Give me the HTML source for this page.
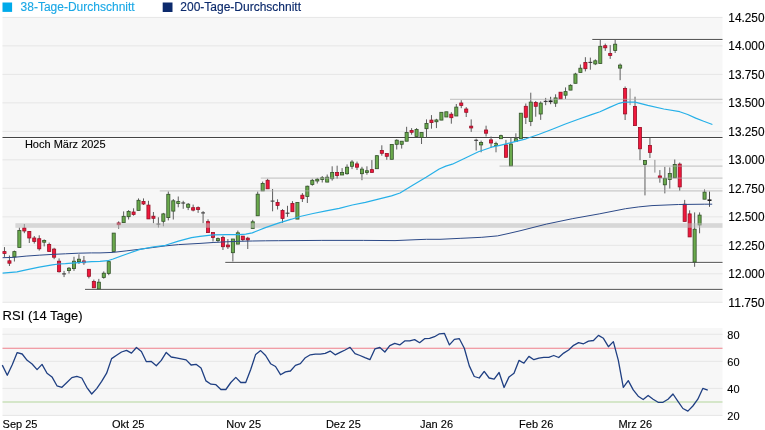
<!DOCTYPE html><html><head><meta charset="utf-8"><title>Chart</title><style>
html,body{margin:0;padding:0;background:#fff;width:765px;height:430px;overflow:hidden}
svg{display:block}
text{font-family:"Liberation Sans", Arial, sans-serif;fill:#000;stroke:#000;stroke-width:0.12px}
</style></head><body>
<svg width="765" height="430" viewBox="0 0 765 430">
<rect x="2.5" y="2.5" width="9.6" height="9.4" fill="#00aaea"/>
<text x="20.6" y="10.8" font-size="12" style="fill:#1aa8e6;stroke:#1aa8e6;stroke-width:0.12px">38-Tage-Durchschnitt</text>
<rect x="162.7" y="2.5" width="9.8" height="9.5" fill="#0c2a6c"/>
<text x="180.3" y="10.8" font-size="12" style="fill:#0c2a6c;stroke:#0c2a6c;stroke-width:0.15px">200-Tage-Durchschnitt</text>
<rect x="2.5" y="17.4" width="720" height="284.9" fill="#f7f7f7"/>
<line x1="2.5" x2="722.5" y1="17.4" y2="17.4" stroke="#e6e6e6" stroke-width="1"/>
<text x="728.3" y="21.7" font-size="12" textLength="36.2" lengthAdjust="spacingAndGlyphs">14.250</text>
<line x1="2.5" x2="722.5" y1="45.89" y2="45.89" stroke="#e6e6e6" stroke-width="1"/>
<text x="728.3" y="50.19" font-size="12" textLength="36.2" lengthAdjust="spacingAndGlyphs">14.000</text>
<line x1="2.5" x2="722.5" y1="74.38" y2="74.38" stroke="#e6e6e6" stroke-width="1"/>
<text x="728.3" y="78.68" font-size="12" textLength="36.2" lengthAdjust="spacingAndGlyphs">13.750</text>
<line x1="2.5" x2="722.5" y1="102.87" y2="102.87" stroke="#e6e6e6" stroke-width="1"/>
<text x="728.3" y="107.17" font-size="12" textLength="36.2" lengthAdjust="spacingAndGlyphs">13.500</text>
<line x1="2.5" x2="722.5" y1="131.36" y2="131.36" stroke="#e6e6e6" stroke-width="1"/>
<text x="728.3" y="135.66" font-size="12" textLength="36.2" lengthAdjust="spacingAndGlyphs">13.250</text>
<line x1="2.5" x2="722.5" y1="159.85" y2="159.85" stroke="#e6e6e6" stroke-width="1"/>
<text x="728.3" y="164.15" font-size="12" textLength="36.2" lengthAdjust="spacingAndGlyphs">13.000</text>
<line x1="2.5" x2="722.5" y1="188.34" y2="188.34" stroke="#e6e6e6" stroke-width="1"/>
<text x="728.3" y="192.64" font-size="12" textLength="36.2" lengthAdjust="spacingAndGlyphs">12.750</text>
<line x1="2.5" x2="722.5" y1="216.83" y2="216.83" stroke="#e6e6e6" stroke-width="1"/>
<text x="728.3" y="221.13" font-size="12" textLength="36.2" lengthAdjust="spacingAndGlyphs">12.500</text>
<line x1="2.5" x2="722.5" y1="245.32" y2="245.32" stroke="#e6e6e6" stroke-width="1"/>
<text x="728.3" y="249.62" font-size="12" textLength="36.2" lengthAdjust="spacingAndGlyphs">12.250</text>
<line x1="2.5" x2="722.5" y1="273.81" y2="273.81" stroke="#e6e6e6" stroke-width="1"/>
<text x="728.3" y="278.11" font-size="12" textLength="36.2" lengthAdjust="spacingAndGlyphs">12.000</text>
<line x1="2.5" x2="722.5" y1="302.3" y2="302.3" stroke="#e6e6e6" stroke-width="1"/>
<text x="728.3" y="306.6" font-size="12" textLength="36.2" lengthAdjust="spacingAndGlyphs">11.750</text>
<line x1="592.3" x2="722.5" y1="39.45" y2="39.45" stroke="#454545" stroke-width="1"/>
<line x1="592.3" x2="722.5" y1="40.45" y2="40.45" stroke="#ffffff" stroke-width="1"/>
<line x1="2.5" x2="722.5" y1="137.5" y2="137.5" stroke="#454545" stroke-width="1"/>
<line x1="2.5" x2="722.5" y1="138.5" y2="138.5" stroke="#ffffff" stroke-width="1"/>
<line x1="225.3" x2="722.5" y1="262.4" y2="262.4" stroke="#454545" stroke-width="1"/>
<line x1="225.3" x2="722.5" y1="263.4" y2="263.4" stroke="#ffffff" stroke-width="1"/>
<line x1="85" x2="722.5" y1="289.4" y2="289.4" stroke="#454545" stroke-width="1"/>
<line x1="85" x2="722.5" y1="290.4" y2="290.4" stroke="#ffffff" stroke-width="1"/>
<text x="24.9" y="147.8" font-size="11">Hoch März 2025</text>
<line x1="4.48" x2="4.48" y1="247.1" y2="256.9" stroke="#5e5e5e" stroke-width="1"/>
<rect x="2.93" y="251.6" width="3.1" height="1.8" fill="#f0183c" stroke="#980f26" stroke-width="0.8"/>
<line x1="9.45" x2="9.45" y1="255.5" y2="266" stroke="#5e5e5e" stroke-width="1"/>
<rect x="7.9" y="260.8" width="3.1" height="2.4" fill="#f0183c" stroke="#980f26" stroke-width="0.8"/>
<line x1="14.41" x2="14.41" y1="250.6" y2="261.5" stroke="#5e5e5e" stroke-width="1"/>
<rect x="12.86" y="251.6" width="3.1" height="5.3" fill="#6aaa4c" stroke="#33522a" stroke-width="0.8"/>
<line x1="19.38" x2="19.38" y1="227.6" y2="247.4" stroke="#5e5e5e" stroke-width="1"/>
<rect x="17.82" y="230.4" width="3.1" height="17" fill="#6aaa4c" stroke="#33522a" stroke-width="0.8"/>
<line x1="24.34" x2="24.34" y1="224" y2="233.2" stroke="#5e5e5e" stroke-width="1"/>
<rect x="22.79" y="228" width="3.1" height="3" fill="#f0183c" stroke="#980f26" stroke-width="0.8"/>
<line x1="29.3" x2="29.3" y1="231" y2="243" stroke="#5e5e5e" stroke-width="1"/>
<rect x="27.75" y="231.5" width="3.1" height="6.5" fill="#f0183c" stroke="#980f26" stroke-width="0.8"/>
<line x1="34.27" x2="34.27" y1="236" y2="243.6" stroke="#5e5e5e" stroke-width="1"/>
<rect x="32.72" y="238" width="3.1" height="3.5" fill="#f0183c" stroke="#980f26" stroke-width="0.8"/>
<line x1="39.23" x2="39.23" y1="235.3" y2="250.6" stroke="#5e5e5e" stroke-width="1"/>
<rect x="37.69" y="238.7" width="3.1" height="10.1" fill="#f0183c" stroke="#980f26" stroke-width="0.8"/>
<line x1="44.2" x2="44.2" y1="239.4" y2="246.4" stroke="#5e5e5e" stroke-width="1"/>
<rect x="42.65" y="240.4" width="3.1" height="1.8" fill="#6aaa4c" stroke="#33522a" stroke-width="0.8"/>
<line x1="49.17" x2="49.17" y1="242.6" y2="251.5" stroke="#5e5e5e" stroke-width="1"/>
<rect x="47.62" y="244.4" width="3.1" height="7.1" fill="#f0183c" stroke="#980f26" stroke-width="0.8"/>
<line x1="54.13" x2="54.13" y1="247.8" y2="259.2" stroke="#5e5e5e" stroke-width="1"/>
<rect x="52.58" y="249.1" width="3.1" height="8.1" fill="#f0183c" stroke="#980f26" stroke-width="0.8"/>
<line x1="59.09" x2="59.09" y1="258.4" y2="272.6" stroke="#5e5e5e" stroke-width="1"/>
<rect x="57.55" y="261.2" width="3.1" height="10.5" fill="#f0183c" stroke="#980f26" stroke-width="0.8"/>
<line x1="64.06" x2="64.06" y1="270.9" y2="277.1" stroke="#5e5e5e" stroke-width="1"/>
<line x1="62.11" x2="66.01" y1="273.9" y2="273.9" stroke="#3a3a3a" stroke-width="1.1"/>
<line x1="69.03" x2="69.03" y1="267" y2="273.5" stroke="#5e5e5e" stroke-width="1"/>
<rect x="67.48" y="268.2" width="3.1" height="2.4" fill="#6aaa4c" stroke="#33522a" stroke-width="0.8"/>
<line x1="73.99" x2="73.99" y1="256.8" y2="270.9" stroke="#5e5e5e" stroke-width="1"/>
<rect x="72.44" y="261.2" width="3.1" height="7.4" fill="#6aaa4c" stroke="#33522a" stroke-width="0.8"/>
<line x1="78.95" x2="78.95" y1="254.3" y2="264" stroke="#5e5e5e" stroke-width="1"/>
<rect x="77.41" y="259.2" width="3.1" height="2.4" fill="#6aaa4c" stroke="#33522a" stroke-width="0.8"/>
<line x1="83.92" x2="83.92" y1="256" y2="264.9" stroke="#5e5e5e" stroke-width="1"/>
<rect x="82.37" y="260.95" width="3.1" height="1.8" fill="#f0183c" stroke="#980f26" stroke-width="0.8"/>
<line x1="88.89" x2="88.89" y1="269" y2="278.4" stroke="#5e5e5e" stroke-width="1"/>
<rect x="87.34" y="269.3" width="3.1" height="7" fill="#f0183c" stroke="#980f26" stroke-width="0.8"/>
<line x1="93.85" x2="93.85" y1="279.6" y2="287.8" stroke="#5e5e5e" stroke-width="1"/>
<rect x="92.3" y="281.5" width="3.1" height="6.3" fill="#f0183c" stroke="#980f26" stroke-width="0.8"/>
<line x1="98.81" x2="98.81" y1="278.9" y2="288.9" stroke="#5e5e5e" stroke-width="1"/>
<rect x="97.27" y="282.2" width="3.1" height="6.7" fill="#6aaa4c" stroke="#33522a" stroke-width="0.8"/>
<line x1="103.78" x2="103.78" y1="271.4" y2="278.7" stroke="#5e5e5e" stroke-width="1"/>
<rect x="102.23" y="273.2" width="3.1" height="4.2" fill="#6aaa4c" stroke="#33522a" stroke-width="0.8"/>
<line x1="108.75" x2="108.75" y1="261.6" y2="275.2" stroke="#5e5e5e" stroke-width="1"/>
<rect x="107.2" y="261.6" width="3.1" height="11.8" fill="#6aaa4c" stroke="#33522a" stroke-width="0.8"/>
<line x1="113.71" x2="113.71" y1="233.1" y2="251.5" stroke="#5e5e5e" stroke-width="1"/>
<rect x="112.16" y="233.1" width="3.1" height="18.4" fill="#6aaa4c" stroke="#33522a" stroke-width="0.8"/>
<line x1="118.67" x2="118.67" y1="221.3" y2="228.8" stroke="#5e5e5e" stroke-width="1"/>
<rect x="117.12" y="222.95" width="3.1" height="1.8" fill="#f0183c" stroke="#980f26" stroke-width="0.8"/>
<line x1="123.64" x2="123.64" y1="211.4" y2="222.6" stroke="#5e5e5e" stroke-width="1"/>
<rect x="122.09" y="216.3" width="3.1" height="6.3" fill="#6aaa4c" stroke="#33522a" stroke-width="0.8"/>
<line x1="128.6" x2="128.6" y1="210.1" y2="219.5" stroke="#5e5e5e" stroke-width="1"/>
<rect x="127.05" y="211.4" width="3.1" height="5.3" fill="#6aaa4c" stroke="#33522a" stroke-width="0.8"/>
<line x1="133.57" x2="133.57" y1="208.3" y2="215.7" stroke="#5e5e5e" stroke-width="1"/>
<rect x="132.02" y="212" width="3.1" height="2.4" fill="#f0183c" stroke="#980f26" stroke-width="0.8"/>
<line x1="138.53" x2="138.53" y1="198.4" y2="210.5" stroke="#5e5e5e" stroke-width="1"/>
<rect x="136.98" y="200.3" width="3.1" height="10.2" fill="#6aaa4c" stroke="#33522a" stroke-width="0.8"/>
<line x1="143.5" x2="143.5" y1="198.4" y2="205" stroke="#5e5e5e" stroke-width="1"/>
<rect x="141.95" y="201.4" width="3.1" height="2.6" fill="#f0183c" stroke="#980f26" stroke-width="0.8"/>
<line x1="148.46" x2="148.46" y1="200.8" y2="218.9" stroke="#5e5e5e" stroke-width="1"/>
<rect x="146.91" y="205.1" width="3.1" height="13.8" fill="#f0183c" stroke="#980f26" stroke-width="0.8"/>
<line x1="153.43" x2="153.43" y1="212" y2="223.2" stroke="#5e5e5e" stroke-width="1"/>
<rect x="151.88" y="216.2" width="3.1" height="2.1" fill="#f0183c" stroke="#980f26" stroke-width="0.8"/>
<line x1="158.39" x2="158.39" y1="217.3" y2="227.5" stroke="#5e5e5e" stroke-width="1"/>
<line x1="156.44" x2="160.34" y1="224.1" y2="224.1" stroke="#3a3a3a" stroke-width="1.1"/>
<line x1="163.36" x2="163.36" y1="212.9" y2="226.3" stroke="#5e5e5e" stroke-width="1"/>
<rect x="161.81" y="213.9" width="3.1" height="7.4" fill="#6aaa4c" stroke="#33522a" stroke-width="0.8"/>
<line x1="168.32" x2="168.32" y1="191.5" y2="220.4" stroke="#5e5e5e" stroke-width="1"/>
<rect x="166.77" y="194.3" width="3.1" height="23.3" fill="#6aaa4c" stroke="#33522a" stroke-width="0.8"/>
<line x1="173.29" x2="173.29" y1="199" y2="219.5" stroke="#5e5e5e" stroke-width="1"/>
<rect x="171.74" y="200.8" width="3.1" height="10.3" fill="#6aaa4c" stroke="#33522a" stroke-width="0.8"/>
<line x1="178.25" x2="178.25" y1="196.5" y2="207.3" stroke="#5e5e5e" stroke-width="1"/>
<rect x="176.7" y="201.6" width="3.1" height="1.8" fill="#6aaa4c" stroke="#33522a" stroke-width="0.8"/>
<line x1="183.22" x2="183.22" y1="200.8" y2="208.8" stroke="#5e5e5e" stroke-width="1"/>
<line x1="181.27" x2="185.17" y1="203" y2="203" stroke="#3a3a3a" stroke-width="1.1"/>
<line x1="188.18" x2="188.18" y1="203" y2="210.1" stroke="#5e5e5e" stroke-width="1"/>
<rect x="186.63" y="204.2" width="3.1" height="3.1" fill="#6aaa4c" stroke="#33522a" stroke-width="0.8"/>
<line x1="193.15" x2="193.15" y1="204.6" y2="211.4" stroke="#5e5e5e" stroke-width="1"/>
<rect x="191.6" y="207.7" width="3.1" height="2.4" fill="#f0183c" stroke="#980f26" stroke-width="0.8"/>
<line x1="198.11" x2="198.11" y1="206.4" y2="212.9" stroke="#5e5e5e" stroke-width="1"/>
<rect x="196.56" y="207.65" width="3.1" height="1.8" fill="#f0183c" stroke="#980f26" stroke-width="0.8"/>
<line x1="203.08" x2="203.08" y1="211.1" y2="223.2" stroke="#5e5e5e" stroke-width="1"/>
<line x1="201.13" x2="205.03" y1="212.9" y2="212.9" stroke="#3a3a3a" stroke-width="1.1"/>
<line x1="208.04" x2="208.04" y1="219.3" y2="232.6" stroke="#5e5e5e" stroke-width="1"/>
<rect x="206.49" y="221.6" width="3.1" height="11" fill="#f0183c" stroke="#980f26" stroke-width="0.8"/>
<line x1="213.01" x2="213.01" y1="232.5" y2="241.5" stroke="#5e5e5e" stroke-width="1"/>
<rect x="211.46" y="232.5" width="3.1" height="5" fill="#f0183c" stroke="#980f26" stroke-width="0.8"/>
<line x1="217.97" x2="217.97" y1="237.5" y2="242.3" stroke="#5e5e5e" stroke-width="1"/>
<rect x="216.42" y="238.6" width="3.1" height="2" fill="#6aaa4c" stroke="#33522a" stroke-width="0.8"/>
<line x1="222.94" x2="222.94" y1="235.7" y2="250" stroke="#5e5e5e" stroke-width="1"/>
<rect x="221.39" y="237.5" width="3.1" height="9.2" fill="#f0183c" stroke="#980f26" stroke-width="0.8"/>
<line x1="227.9" x2="227.9" y1="239" y2="249" stroke="#5e5e5e" stroke-width="1"/>
<rect x="226.35" y="245.05" width="3.1" height="1.8" fill="#f0183c" stroke="#980f26" stroke-width="0.8"/>
<line x1="232.87" x2="232.87" y1="239" y2="261.5" stroke="#5e5e5e" stroke-width="1"/>
<rect x="231.32" y="239" width="3.1" height="13.7" fill="#6aaa4c" stroke="#33522a" stroke-width="0.8"/>
<line x1="237.83" x2="237.83" y1="230.6" y2="244.1" stroke="#5e5e5e" stroke-width="1"/>
<rect x="236.28" y="232.8" width="3.1" height="11.3" fill="#6aaa4c" stroke="#33522a" stroke-width="0.8"/>
<line x1="242.8" x2="242.8" y1="236.1" y2="241.2" stroke="#5e5e5e" stroke-width="1"/>
<rect x="241.25" y="236.1" width="3.1" height="3.6" fill="#f0183c" stroke="#980f26" stroke-width="0.8"/>
<line x1="247.76" x2="247.76" y1="236.8" y2="249" stroke="#5e5e5e" stroke-width="1"/>
<rect x="246.21" y="238.15" width="3.1" height="1.8" fill="#f0183c" stroke="#980f26" stroke-width="0.8"/>
<line x1="252.73" x2="252.73" y1="219.8" y2="228.4" stroke="#5e5e5e" stroke-width="1"/>
<rect x="251.18" y="221.8" width="3.1" height="6.6" fill="#6aaa4c" stroke="#33522a" stroke-width="0.8"/>
<line x1="257.69" x2="257.69" y1="191.6" y2="215.8" stroke="#5e5e5e" stroke-width="1"/>
<rect x="256.14" y="194.2" width="3.1" height="21.6" fill="#6aaa4c" stroke="#33522a" stroke-width="0.8"/>
<line x1="262.66" x2="262.66" y1="181.6" y2="190.9" stroke="#5e5e5e" stroke-width="1"/>
<rect x="261.11" y="183.4" width="3.1" height="7.5" fill="#6aaa4c" stroke="#33522a" stroke-width="0.8"/>
<line x1="267.62" x2="267.62" y1="178.8" y2="188.8" stroke="#5e5e5e" stroke-width="1"/>
<rect x="266.07" y="180.3" width="3.1" height="8.5" fill="#f0183c" stroke="#980f26" stroke-width="0.8"/>
<line x1="272.59" x2="272.59" y1="189" y2="211.3" stroke="#5e5e5e" stroke-width="1"/>
<line x1="270.64" x2="274.54" y1="201.1" y2="201.1" stroke="#3a3a3a" stroke-width="1.1"/>
<line x1="277.56" x2="277.56" y1="199.3" y2="209.5" stroke="#5e5e5e" stroke-width="1"/>
<rect x="276" y="202.4" width="3.1" height="3" fill="#f0183c" stroke="#980f26" stroke-width="0.8"/>
<line x1="282.52" x2="282.52" y1="209.1" y2="222.9" stroke="#5e5e5e" stroke-width="1"/>
<rect x="280.97" y="210.4" width="3.1" height="8" fill="#f0183c" stroke="#980f26" stroke-width="0.8"/>
<line x1="287.49" x2="287.49" y1="205.8" y2="216.9" stroke="#5e5e5e" stroke-width="1"/>
<line x1="285.54" x2="289.44" y1="213.2" y2="213.2" stroke="#3a3a3a" stroke-width="1.1"/>
<line x1="292.45" x2="292.45" y1="201.1" y2="211.7" stroke="#5e5e5e" stroke-width="1"/>
<rect x="290.9" y="203.5" width="3.1" height="8.2" fill="#f0183c" stroke="#980f26" stroke-width="0.8"/>
<line x1="297.42" x2="297.42" y1="202.4" y2="219.1" stroke="#5e5e5e" stroke-width="1"/>
<rect x="295.87" y="202.4" width="3.1" height="16.7" fill="#6aaa4c" stroke="#33522a" stroke-width="0.8"/>
<line x1="302.38" x2="302.38" y1="193.1" y2="202" stroke="#5e5e5e" stroke-width="1"/>
<rect x="300.83" y="195.2" width="3.1" height="3.5" fill="#f0183c" stroke="#980f26" stroke-width="0.8"/>
<line x1="307.35" x2="307.35" y1="185.7" y2="203" stroke="#5e5e5e" stroke-width="1"/>
<rect x="305.8" y="186.2" width="3.1" height="10.3" fill="#6aaa4c" stroke="#33522a" stroke-width="0.8"/>
<line x1="312.31" x2="312.31" y1="178.8" y2="185.7" stroke="#5e5e5e" stroke-width="1"/>
<rect x="310.76" y="180.3" width="3.1" height="4.1" fill="#6aaa4c" stroke="#33522a" stroke-width="0.8"/>
<line x1="317.28" x2="317.28" y1="177.9" y2="183.5" stroke="#5e5e5e" stroke-width="1"/>
<rect x="315.73" y="179.2" width="3.1" height="1.8" fill="#6aaa4c" stroke="#33522a" stroke-width="0.8"/>
<line x1="322.24" x2="322.24" y1="176" y2="182.5" stroke="#5e5e5e" stroke-width="1"/>
<rect x="320.69" y="177.7" width="3.1" height="1.8" fill="#6aaa4c" stroke="#33522a" stroke-width="0.8"/>
<line x1="327.2" x2="327.2" y1="174.5" y2="182.1" stroke="#5e5e5e" stroke-width="1"/>
<rect x="325.65" y="177.2" width="3.1" height="4.9" fill="#6aaa4c" stroke="#33522a" stroke-width="0.8"/>
<line x1="332.17" x2="332.17" y1="166.3" y2="180.6" stroke="#5e5e5e" stroke-width="1"/>
<rect x="330.62" y="172.4" width="3.1" height="6.3" fill="#6aaa4c" stroke="#33522a" stroke-width="0.8"/>
<line x1="337.13" x2="337.13" y1="165.7" y2="178.7" stroke="#5e5e5e" stroke-width="1"/>
<rect x="335.58" y="172.4" width="3.1" height="3.2" fill="#f0183c" stroke="#980f26" stroke-width="0.8"/>
<line x1="342.1" x2="342.1" y1="168.1" y2="175" stroke="#5e5e5e" stroke-width="1"/>
<rect x="340.55" y="172.4" width="3.1" height="2.6" fill="#6aaa4c" stroke="#33522a" stroke-width="0.8"/>
<line x1="347.06" x2="347.06" y1="164.4" y2="174.7" stroke="#5e5e5e" stroke-width="1"/>
<rect x="345.51" y="167.2" width="3.1" height="6.5" fill="#6aaa4c" stroke="#33522a" stroke-width="0.8"/>
<line x1="352.03" x2="352.03" y1="160.1" y2="169.1" stroke="#5e5e5e" stroke-width="1"/>
<rect x="350.48" y="162" width="3.1" height="4.3" fill="#6aaa4c" stroke="#33522a" stroke-width="0.8"/>
<line x1="357" x2="357" y1="161.6" y2="170" stroke="#5e5e5e" stroke-width="1"/>
<rect x="355.44" y="163.9" width="3.1" height="3.3" fill="#f0183c" stroke="#980f26" stroke-width="0.8"/>
<line x1="361.96" x2="361.96" y1="166.8" y2="180.2" stroke="#5e5e5e" stroke-width="1"/>
<rect x="360.41" y="169.1" width="3.1" height="4.6" fill="#6aaa4c" stroke="#33522a" stroke-width="0.8"/>
<line x1="366.93" x2="366.93" y1="166.3" y2="174.7" stroke="#5e5e5e" stroke-width="1"/>
<rect x="365.38" y="170.75" width="3.1" height="1.8" fill="#6aaa4c" stroke="#33522a" stroke-width="0.8"/>
<line x1="371.89" x2="371.89" y1="160.1" y2="172.4" stroke="#5e5e5e" stroke-width="1"/>
<rect x="370.34" y="169.6" width="3.1" height="2.8" fill="#f0183c" stroke="#980f26" stroke-width="0.8"/>
<line x1="376.86" x2="376.86" y1="155.1" y2="168.7" stroke="#5e5e5e" stroke-width="1"/>
<rect x="375.31" y="155.7" width="3.1" height="13" fill="#6aaa4c" stroke="#33522a" stroke-width="0.8"/>
<line x1="381.82" x2="381.82" y1="145.3" y2="155.7" stroke="#5e5e5e" stroke-width="1"/>
<rect x="380.27" y="150.5" width="3.1" height="2.8" fill="#f0183c" stroke="#980f26" stroke-width="0.8"/>
<line x1="386.79" x2="386.79" y1="153.3" y2="159.8" stroke="#5e5e5e" stroke-width="1"/>
<rect x="385.24" y="153.5" width="3.1" height="2.8" fill="#f0183c" stroke="#980f26" stroke-width="0.8"/>
<line x1="391.75" x2="391.75" y1="144.4" y2="159.3" stroke="#5e5e5e" stroke-width="1"/>
<rect x="390.2" y="144.4" width="3.1" height="14.9" fill="#6aaa4c" stroke="#33522a" stroke-width="0.8"/>
<line x1="396.72" x2="396.72" y1="139.3" y2="149.5" stroke="#5e5e5e" stroke-width="1"/>
<rect x="395.17" y="140.2" width="3.1" height="4.1" fill="#6aaa4c" stroke="#33522a" stroke-width="0.8"/>
<line x1="401.68" x2="401.68" y1="141.2" y2="148.6" stroke="#5e5e5e" stroke-width="1"/>
<rect x="400.13" y="141.2" width="3.1" height="3.1" fill="#6aaa4c" stroke="#33522a" stroke-width="0.8"/>
<line x1="406.64" x2="406.64" y1="126.8" y2="141.2" stroke="#5e5e5e" stroke-width="1"/>
<rect x="405.09" y="132.4" width="3.1" height="8.8" fill="#6aaa4c" stroke="#33522a" stroke-width="0.8"/>
<line x1="411.61" x2="411.61" y1="128.1" y2="134.7" stroke="#5e5e5e" stroke-width="1"/>
<rect x="410.06" y="130.5" width="3.1" height="1.8" fill="#f0183c" stroke="#980f26" stroke-width="0.8"/>
<line x1="416.57" x2="416.57" y1="128.1" y2="136.5" stroke="#5e5e5e" stroke-width="1"/>
<rect x="415.02" y="129.4" width="3.1" height="7.1" fill="#6aaa4c" stroke="#33522a" stroke-width="0.8"/>
<line x1="421.54" x2="421.54" y1="132.4" y2="144" stroke="#5e5e5e" stroke-width="1"/>
<rect x="419.99" y="132.4" width="3.1" height="5" fill="#6aaa4c" stroke="#33522a" stroke-width="0.8"/>
<line x1="426.5" x2="426.5" y1="119.4" y2="137.4" stroke="#5e5e5e" stroke-width="1"/>
<rect x="424.95" y="123.5" width="3.1" height="5.2" fill="#6aaa4c" stroke="#33522a" stroke-width="0.8"/>
<line x1="431.47" x2="431.47" y1="115.1" y2="128.7" stroke="#5e5e5e" stroke-width="1"/>
<rect x="429.92" y="120.1" width="3.1" height="2.5" fill="#f0183c" stroke="#980f26" stroke-width="0.8"/>
<line x1="436.44" x2="436.44" y1="118.8" y2="128.1" stroke="#5e5e5e" stroke-width="1"/>
<rect x="434.88" y="119.95" width="3.1" height="1.8" fill="#6aaa4c" stroke="#33522a" stroke-width="0.8"/>
<line x1="441.4" x2="441.4" y1="112.3" y2="120.1" stroke="#5e5e5e" stroke-width="1"/>
<rect x="439.85" y="112.3" width="3.1" height="7.8" fill="#6aaa4c" stroke="#33522a" stroke-width="0.8"/>
<line x1="446.37" x2="446.37" y1="111.8" y2="117" stroke="#5e5e5e" stroke-width="1"/>
<rect x="444.81" y="111.8" width="3.1" height="5.2" fill="#6aaa4c" stroke="#33522a" stroke-width="0.8"/>
<line x1="451.33" x2="451.33" y1="112.2" y2="123.7" stroke="#5e5e5e" stroke-width="1"/>
<rect x="449.78" y="114.2" width="3.1" height="3.5" fill="#f0183c" stroke="#980f26" stroke-width="0.8"/>
<line x1="456.3" x2="456.3" y1="104" y2="116" stroke="#5e5e5e" stroke-width="1"/>
<rect x="454.75" y="107.1" width="3.1" height="8.9" fill="#6aaa4c" stroke="#33522a" stroke-width="0.8"/>
<line x1="461.26" x2="461.26" y1="100.2" y2="108.2" stroke="#5e5e5e" stroke-width="1"/>
<rect x="459.71" y="103" width="3.1" height="2.4" fill="#f0183c" stroke="#980f26" stroke-width="0.8"/>
<line x1="466.23" x2="466.23" y1="107.1" y2="117" stroke="#5e5e5e" stroke-width="1"/>
<rect x="464.68" y="109" width="3.1" height="3.3" fill="#f0183c" stroke="#980f26" stroke-width="0.8"/>
<line x1="471.19" x2="471.19" y1="119.4" y2="131.9" stroke="#5e5e5e" stroke-width="1"/>
<rect x="469.64" y="126.15" width="3.1" height="1.8" fill="#f0183c" stroke="#980f26" stroke-width="0.8"/>
<line x1="476.16" x2="476.16" y1="138.7" y2="150.5" stroke="#5e5e5e" stroke-width="1"/>
<line x1="474.21" x2="478.11" y1="140.3" y2="140.3" stroke="#3a3a3a" stroke-width="1.1"/>
<line x1="481.12" x2="481.12" y1="140.6" y2="152.3" stroke="#5e5e5e" stroke-width="1"/>
<rect x="479.57" y="142.5" width="3.1" height="2.4" fill="#6aaa4c" stroke="#33522a" stroke-width="0.8"/>
<line x1="486.08" x2="486.08" y1="125.7" y2="136.5" stroke="#5e5e5e" stroke-width="1"/>
<rect x="484.53" y="130" width="3.1" height="3.2" fill="#f0183c" stroke="#980f26" stroke-width="0.8"/>
<line x1="491.05" x2="491.05" y1="136.5" y2="147.7" stroke="#5e5e5e" stroke-width="1"/>
<rect x="489.5" y="139.9" width="3.1" height="3.1" fill="#f0183c" stroke="#980f26" stroke-width="0.8"/>
<line x1="496.01" x2="496.01" y1="141.7" y2="152.3" stroke="#5e5e5e" stroke-width="1"/>
<rect x="494.46" y="143.6" width="3.1" height="1.8" fill="#6aaa4c" stroke="#33522a" stroke-width="0.8"/>
<line x1="500.98" x2="500.98" y1="134.7" y2="138.7" stroke="#5e5e5e" stroke-width="1"/>
<rect x="499.43" y="135.6" width="3.1" height="3.1" fill="#6aaa4c" stroke="#33522a" stroke-width="0.8"/>
<line x1="505.94" x2="505.94" y1="139.9" y2="157.3" stroke="#5e5e5e" stroke-width="1"/>
<rect x="504.39" y="144.9" width="3.1" height="12.4" fill="#f0183c" stroke="#980f26" stroke-width="0.8"/>
<line x1="510.91" x2="510.91" y1="137.4" y2="165.9" stroke="#5e5e5e" stroke-width="1"/>
<rect x="509.36" y="144" width="3.1" height="21.9" fill="#6aaa4c" stroke="#33522a" stroke-width="0.8"/>
<line x1="515.88" x2="515.88" y1="133.3" y2="141.5" stroke="#5e5e5e" stroke-width="1"/>
<rect x="514.33" y="138.7" width="3.1" height="2.8" fill="#6aaa4c" stroke="#33522a" stroke-width="0.8"/>
<line x1="520.84" x2="520.84" y1="113.2" y2="138.7" stroke="#5e5e5e" stroke-width="1"/>
<rect x="519.29" y="113.2" width="3.1" height="25.5" fill="#6aaa4c" stroke="#33522a" stroke-width="0.8"/>
<line x1="525.8" x2="525.8" y1="103.5" y2="124" stroke="#5e5e5e" stroke-width="1"/>
<rect x="524.25" y="106.3" width="3.1" height="11" fill="#f0183c" stroke="#980f26" stroke-width="0.8"/>
<line x1="530.77" x2="530.77" y1="92.7" y2="126.1" stroke="#5e5e5e" stroke-width="1"/>
<rect x="529.22" y="102.1" width="3.1" height="19.4" fill="#6aaa4c" stroke="#33522a" stroke-width="0.8"/>
<line x1="535.74" x2="535.74" y1="101" y2="116.7" stroke="#5e5e5e" stroke-width="1"/>
<rect x="534.19" y="102.5" width="3.1" height="3.8" fill="#f0183c" stroke="#980f26" stroke-width="0.8"/>
<line x1="540.7" x2="540.7" y1="101.4" y2="119.9" stroke="#5e5e5e" stroke-width="1"/>
<rect x="539.15" y="103.1" width="3.1" height="10.9" fill="#6aaa4c" stroke="#33522a" stroke-width="0.8"/>
<line x1="545.66" x2="545.66" y1="97.9" y2="105.2" stroke="#5e5e5e" stroke-width="1"/>
<line x1="543.71" x2="547.62" y1="101.4" y2="101.4" stroke="#3a3a3a" stroke-width="1.1"/>
<line x1="550.63" x2="550.63" y1="96.8" y2="104.2" stroke="#4a4a4a" stroke-width="1"/>
<rect x="548.63" y="100.5" width="4" height="1.6" fill="#1e1e1e"/>
<line x1="555.6" x2="555.6" y1="94.3" y2="106.9" stroke="#5e5e5e" stroke-width="1"/>
<rect x="554.05" y="97.9" width="3.1" height="5.3" fill="#6aaa4c" stroke="#33522a" stroke-width="0.8"/>
<line x1="560.56" x2="560.56" y1="92.2" y2="98.9" stroke="#5e5e5e" stroke-width="1"/>
<rect x="559.01" y="92.2" width="3.1" height="6.7" fill="#f0183c" stroke="#980f26" stroke-width="0.8"/>
<line x1="565.52" x2="565.52" y1="87.4" y2="98.9" stroke="#5e5e5e" stroke-width="1"/>
<rect x="563.98" y="91.6" width="3.1" height="3.6" fill="#6aaa4c" stroke="#33522a" stroke-width="0.8"/>
<line x1="570.49" x2="570.49" y1="84.3" y2="90.1" stroke="#5e5e5e" stroke-width="1"/>
<rect x="568.94" y="85.3" width="3.1" height="4.8" fill="#6aaa4c" stroke="#33522a" stroke-width="0.8"/>
<line x1="575.46" x2="575.46" y1="72.8" y2="83.3" stroke="#5e5e5e" stroke-width="1"/>
<rect x="573.91" y="74" width="3.1" height="9.3" fill="#6aaa4c" stroke="#33522a" stroke-width="0.8"/>
<line x1="580.42" x2="580.42" y1="64.5" y2="72.5" stroke="#5e5e5e" stroke-width="1"/>
<rect x="578.87" y="68.2" width="3.1" height="4.3" fill="#6aaa4c" stroke="#33522a" stroke-width="0.8"/>
<line x1="585.38" x2="585.38" y1="57.2" y2="71.4" stroke="#5e5e5e" stroke-width="1"/>
<rect x="583.84" y="62.4" width="3.1" height="6.3" fill="#f0183c" stroke="#980f26" stroke-width="0.8"/>
<line x1="590.35" x2="590.35" y1="57.6" y2="69.7" stroke="#5e5e5e" stroke-width="1"/>
<line x1="588.4" x2="592.3" y1="62.4" y2="62.4" stroke="#3a3a3a" stroke-width="1.1"/>
<line x1="595.32" x2="595.32" y1="59.3" y2="65.1" stroke="#5e5e5e" stroke-width="1"/>
<rect x="593.77" y="60.8" width="3.1" height="3.1" fill="#6aaa4c" stroke="#33522a" stroke-width="0.8"/>
<line x1="600.28" x2="600.28" y1="39.4" y2="63.5" stroke="#5e5e5e" stroke-width="1"/>
<rect x="598.73" y="46.3" width="3.1" height="17.2" fill="#6aaa4c" stroke="#33522a" stroke-width="0.8"/>
<line x1="605.25" x2="605.25" y1="43.6" y2="50.9" stroke="#5e5e5e" stroke-width="1"/>
<rect x="603.7" y="45.7" width="3.1" height="2.1" fill="#f0183c" stroke="#980f26" stroke-width="0.8"/>
<line x1="610.21" x2="610.21" y1="45.1" y2="58.9" stroke="#5e5e5e" stroke-width="1"/>
<rect x="608.66" y="53.4" width="3.1" height="2.1" fill="#f0183c" stroke="#980f26" stroke-width="0.8"/>
<line x1="615.17" x2="615.17" y1="39.4" y2="53" stroke="#5e5e5e" stroke-width="1"/>
<rect x="613.62" y="44.2" width="3.1" height="6.3" fill="#6aaa4c" stroke="#33522a" stroke-width="0.8"/>
<line x1="620.14" x2="620.14" y1="63.5" y2="80.2" stroke="#5e5e5e" stroke-width="1"/>
<rect x="618.59" y="65.1" width="3.1" height="3" fill="#6aaa4c" stroke="#33522a" stroke-width="0.8"/>
<line x1="625.11" x2="625.11" y1="86.5" y2="120" stroke="#5e5e5e" stroke-width="1"/>
<rect x="623.56" y="88.4" width="3.1" height="25.5" fill="#f0183c" stroke="#980f26" stroke-width="0.8"/>
<line x1="630.07" x2="630.07" y1="88.5" y2="105.1" stroke="#8c8c8c" stroke-width="1"/>
<line x1="635.03" x2="635.03" y1="96.7" y2="125.6" stroke="#5e5e5e" stroke-width="1"/>
<rect x="633.49" y="106.4" width="3.1" height="19.2" fill="#f0183c" stroke="#980f26" stroke-width="0.8"/>
<line x1="640" x2="640" y1="127.4" y2="160.2" stroke="#5e5e5e" stroke-width="1"/>
<rect x="638.45" y="127.4" width="3.1" height="21.4" fill="#f0183c" stroke="#980f26" stroke-width="0.8"/>
<line x1="644.97" x2="644.97" y1="160.4" y2="195.4" stroke="#5e5e5e" stroke-width="1"/>
<rect x="643.42" y="160.4" width="3.1" height="4" fill="#6aaa4c" stroke="#33522a" stroke-width="0.8"/>
<line x1="649.93" x2="649.93" y1="137.7" y2="158" stroke="#5e5e5e" stroke-width="1"/>
<rect x="648.38" y="145.4" width="3.1" height="7" fill="#f0183c" stroke="#980f26" stroke-width="0.8"/>
<line x1="654.89" x2="654.89" y1="159.9" y2="172.6" stroke="#8c8c8c" stroke-width="1"/>
<line x1="659.86" x2="659.86" y1="170.1" y2="182.7" stroke="#5e5e5e" stroke-width="1"/>
<rect x="658.31" y="175.95" width="3.1" height="1.8" fill="#f0183c" stroke="#980f26" stroke-width="0.8"/>
<line x1="664.83" x2="664.83" y1="166.9" y2="193.4" stroke="#5e5e5e" stroke-width="1"/>
<rect x="663.28" y="178.3" width="3.1" height="6.5" fill="#6aaa4c" stroke="#33522a" stroke-width="0.8"/>
<line x1="669.79" x2="669.79" y1="167.4" y2="188.5" stroke="#5e5e5e" stroke-width="1"/>
<rect x="668.24" y="173.4" width="3.1" height="6" fill="#6aaa4c" stroke="#33522a" stroke-width="0.8"/>
<line x1="674.75" x2="674.75" y1="159.5" y2="177.8" stroke="#5e5e5e" stroke-width="1"/>
<rect x="673.21" y="164.4" width="3.1" height="13.4" fill="#6aaa4c" stroke="#33522a" stroke-width="0.8"/>
<line x1="679.72" x2="679.72" y1="162.5" y2="190.8" stroke="#5e5e5e" stroke-width="1"/>
<rect x="678.17" y="164.1" width="3.1" height="22.8" fill="#f0183c" stroke="#980f26" stroke-width="0.8"/>
<line x1="684.68" x2="684.68" y1="199.9" y2="221.4" stroke="#5e5e5e" stroke-width="1"/>
<rect x="683.13" y="204.2" width="3.1" height="17.2" fill="#f0183c" stroke="#980f26" stroke-width="0.8"/>
<line x1="689.65" x2="689.65" y1="210.3" y2="236.9" stroke="#5e5e5e" stroke-width="1"/>
<rect x="688.1" y="213.9" width="3.1" height="23" fill="#f0183c" stroke="#980f26" stroke-width="0.8"/>
<line x1="694.62" x2="694.62" y1="212.4" y2="266.8" stroke="#5e5e5e" stroke-width="1"/>
<rect x="693.07" y="229.2" width="3.1" height="32.8" fill="#6aaa4c" stroke="#33522a" stroke-width="0.8"/>
<line x1="699.58" x2="699.58" y1="212.4" y2="233.3" stroke="#5e5e5e" stroke-width="1"/>
<rect x="698.03" y="215.1" width="3.1" height="9.9" fill="#6aaa4c" stroke="#33522a" stroke-width="0.8"/>
<line x1="704.54" x2="704.54" y1="189.4" y2="199.2" stroke="#5e5e5e" stroke-width="1"/>
<rect x="703" y="192.1" width="3.1" height="7.1" fill="#6aaa4c" stroke="#33522a" stroke-width="0.8"/>
<line x1="709.51" x2="709.51" y1="191.5" y2="206.8" stroke="#4a4a4a" stroke-width="1"/>
<rect x="707.51" y="199.4" width="4" height="1.6" fill="#1e1e1e"/>
<rect x="15.4" y="223.2" width="707.1" height="4.6" fill="rgb(190,190,190)" fill-opacity="0.55"/>
<line x1="450" x2="722.5" y1="99.4" y2="99.4" stroke="rgb(170,170,170)" stroke-width="1.2" stroke-opacity="0.6"/>
<line x1="499.5" x2="722.5" y1="166.2" y2="166.2" stroke="rgb(170,170,170)" stroke-width="1.2" stroke-opacity="0.6"/>
<line x1="260.8" x2="722.5" y1="178.2" y2="178.2" stroke="rgb(170,170,170)" stroke-width="1.2" stroke-opacity="0.6"/>
<line x1="159.8" x2="722.5" y1="190.9" y2="190.9" stroke="rgb(170,170,170)" stroke-width="1.2" stroke-opacity="0.6"/>
<polyline fill="none" stroke="#2d4a88" stroke-width="1" stroke-linejoin="round" points="2.6,257.7 13.1,257.4 26.1,256.1 39.2,255.2 52.3,254.4 65.4,253.8 78.4,253.2 91.5,252.9 100,252.9 113.1,252.4 126.1,250.9 139.2,249.3 152.3,247.6 165.4,245.9 178.4,244.6 200,243.4 213.1,242.5 226.1,241.8 239.2,241.3 252.3,241 265.4,240.8 278.4,240.7 280,240.7 321.8,240.4 363.7,240.4 395,240.6 416,239.7 426.4,239.3 440,239.3 460.9,238.3 481.8,237.3 497.5,235.9 508,233.6 520,230.8 546.4,224.1 572.8,218.6 599.2,213.9 625.6,208.7 638.8,206.9 652,205.6 678.4,204.5 704.8,204.2 712.2,204.2"/>
<polyline fill="none" stroke="#26b0e8" stroke-width="1.2" stroke-linejoin="round" points="2.6,273.1 17,271.8 26.1,269.8 39.2,267.2 52.3,264.9 58.8,264 65.4,263.7 78.4,262.6 91.5,261.7 100,261.3 107.8,260.7 113.1,259 126.1,254.2 139.2,249.6 152.3,247 165.4,245.3 178.4,241.1 191.5,237.6 200,236.4 213.1,234.8 226.1,234.6 239.2,234.6 245.8,234.2 252.3,232.9 258.8,230.3 265.4,227.6 271.9,225.4 278.4,223.1 285,221.1 291.5,219.2 300,216.5 313.1,213.5 326.1,210.9 339.2,208.3 352.3,205 365.4,202.4 378.4,199.2 391.5,195.9 400,193 413.1,185.1 426.1,177.3 439.2,169 445.8,166.1 452.3,164.2 465.4,158 478.4,151.8 491.5,147.2 500,145.3 513.1,142.1 526.1,138.8 539.2,134.2 552.3,129.2 565.4,124 578.4,119.2 591.5,114.6 600,111.7 609.6,107.4 619.1,103.3 623.9,102.2 635.1,102.2 647.8,105.4 663.8,109 679.7,111.7 687.7,114.5 695.7,118.1 703.7,121.3 712.4,124.5"/>
<text x="2.6" y="320.4" font-size="13">RSI (14 Tage)</text>
<rect x="2.5" y="328" width="720" height="87.5" fill="#f7f7f7"/>
<line x1="2.5" x2="722.5" y1="334.3" y2="334.3" stroke="#e6e6e6" stroke-width="1"/>
<text x="727.3" y="338.6" font-size="11">80</text>
<line x1="2.5" x2="722.5" y1="361.33" y2="361.33" stroke="#e6e6e6" stroke-width="1"/>
<text x="727.3" y="365.63" font-size="11">60</text>
<line x1="2.5" x2="722.5" y1="388.37" y2="388.37" stroke="#e6e6e6" stroke-width="1"/>
<text x="727.3" y="392.67" font-size="11">40</text>
<line x1="2.5" x2="722.5" y1="415.4" y2="415.4" stroke="#e6e6e6" stroke-width="1"/>
<text x="727.3" y="419.7" font-size="11">20</text>
<line x1="2.5" x2="722.5" y1="348.3" y2="348.3" stroke="#ef7f8b" stroke-width="1.1"/>
<line x1="2.5" x2="722.5" y1="402" y2="402" stroke="#b4d69c" stroke-width="1.1"/>
<polyline fill="none" stroke="#1f3f82" stroke-width="1.3" stroke-linejoin="round" points="2.3,365.1 7.27,375.2 12.24,364.8 17.2,352.6 22.17,354 27.14,360.3 32.11,364 37.08,369.6 42.04,364.4 47.01,373.2 51.98,376.9 56.95,385.8 61.92,387.3 66.88,382.5 71.85,377.6 76.82,376.3 81.79,378 86.76,387.3 91.72,394 96.69,388.6 101.66,381.4 106.63,373.2 111.6,358.6 116.56,355.3 121.53,352 126.5,350.4 131.47,353.1 136.44,347.5 141.4,351.5 146.37,361.7 151.34,361.5 156.31,365.7 161.28,360.4 166.24,352.4 171.21,357 176.18,357.9 181.15,358.8 186.12,359.9 191.08,365 196.05,364.3 201.02,368.1 205.99,380.9 210.96,384.2 215.92,384.7 220.89,389.5 225.86,389.5 230.83,382.5 235.8,377.4 240.76,382.5 245.73,382.5 250.7,369.5 255.67,354.4 260.64,350.6 265.6,355.5 270.57,363.7 275.54,366.5 280.51,374.7 285.48,371.9 290.44,371 295.41,365.4 300.38,363.7 305.35,357.7 310.32,354.8 315.28,354.2 320.25,354.2 325.22,353.3 330.19,351.1 335.16,354.8 340.12,352.4 345.09,350 350.06,347.3 355.03,353.7 360,355.5 364.96,357.7 369.93,359.7 374.9,348.9 379.87,347.5 384.84,352 389.8,345.6 394.77,343.3 399.74,344.9 404.71,340.9 409.68,340.9 414.64,339.6 419.61,342.7 424.58,338.7 429.55,338.3 434.52,336.7 439.48,333.8 444.45,333.4 449.42,344.9 454.39,339.4 459.36,338.7 464.32,348.2 469.29,365.9 474.26,376.5 479.23,378 484.2,371.4 489.16,378 494.13,379.1 499.1,372.5 504.07,387.5 509.04,376.9 514,373.2 518.97,360.4 523.94,363.2 528.91,356.4 533.88,359.7 538.84,358.1 543.81,357.3 548.78,357.3 553.75,355.5 558.72,357.5 563.68,353.1 568.65,350 573.62,345.3 578.59,342.7 583.56,343.8 588.52,341.1 593.49,340.5 598.46,335.4 603.43,338.3 608.4,346.7 613.36,341.6 618.33,360.4 623.3,387.4 628.27,380.6 633.24,389.9 638.2,396.2 643.17,399.5 648.14,395.4 653.11,399.2 658.08,402.3 663.04,402.3 668.01,399.2 672.98,394 677.95,401.4 682.92,408.5 687.88,411.1 692.85,406 697.82,399.2 702.79,388.4 707.76,390.2"/>
<text x="2.6" y="428.2" font-size="11">Sep 25</text>
<text x="112" y="428.2" font-size="11">Okt 25</text>
<text x="226.2" y="428.2" font-size="11">Nov 25</text>
<text x="325.9" y="428.2" font-size="11">Dez 25</text>
<text x="420" y="428.2" font-size="11">Jan 26</text>
<text x="519.1" y="428.2" font-size="11">Feb 26</text>
<text x="618.4" y="428.2" font-size="11">Mrz 26</text>
</svg></body></html>
